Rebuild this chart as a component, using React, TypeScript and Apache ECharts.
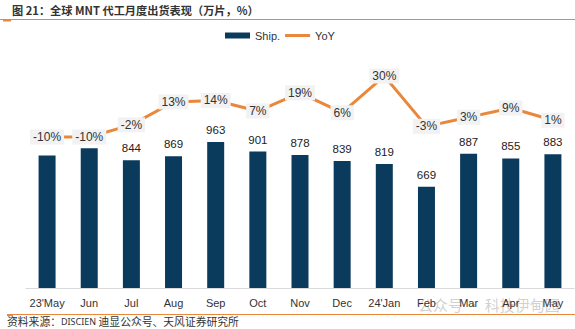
import React, { useEffect, useRef } from "react";
import * as echarts from "echarts";

const categories = ["23'May", "Jun", "Jul", "Aug", "Sep", "Oct", "Nov", "Dec", "24'Jan", "Feb", "Mar", "Apr", "May"];
const shipments = [875, 922, 844, 869, 963, 901, 878, 839, 819, 669, 887, 855, 883];
// bar value labels hidden behind the YoY labels in the reference
const shipLabelHidden = [true, true, false, false, false, false, false, false, false, false, false, false, false];
const yoy = [-10, -10, -2, 13, 14, 7, 19, 6, 30, -3, 3, 9, 1];

const titleText = "图 21：全球 MNT 代工月度出货表现（万片，%）";
const sourcePrefix = "资料来源：";
const sourceBrand = "DISCIEN";
const sourceRest = " 迪显公众号、天风证券研究所";
const watermarkText = "公众号 · 科技伊甸园";

export default function App() {
  const ref = useRef<HTMLDivElement>(null);
  useEffect(() => {
    if (!ref.current) return;
    const chart = echarts.init(ref.current, null, { renderer: "svg" });
    const orange = "#E9873B";
    const cjk = "Noto Sans CJK SC, sans-serif";
    chart.setOption({
      animation: false,
      textStyle: { fontFamily: "Liberation Sans, Arial, sans-serif" },
      grid: { left: 26, right: 1, top: 59.25, bottom: 41 },
      legend: {
        left: 220,
        top: 25,
        itemGap: 5,
        itemWidth: 25,
        itemHeight: 6,
        textStyle: { fontSize: 11, color: "#333", fontFamily: "Liberation Sans, Arial, sans-serif" },
        data: [
          { name: "Ship.", icon: "rect" },
          { name: "YoY", icon: "path://M0,0 L25,0 L25,3 L0,3 Z" },
        ],
      },
      xAxis: {
        type: "category",
        data: categories,
        axisLine: { lineStyle: { color: "#d9d9d9", width: 1 } },
        axisTick: { show: false },
        axisLabel: { color: "#333", fontSize: 11, margin: 9, interval: 0 },
      },
      yAxis: [
        { type: "value", min: 0, max: 1510, show: false, splitLine: { show: false } },
        { type: "value", min: -109, max: 41, show: false, splitLine: { show: false } },
      ],
      series: [
        {
          name: "Ship.",
          type: "bar",
          data: shipments.map((v, i) => ({ value: v, label: { show: !shipLabelHidden[i] } })),
          barWidth: 17,
          itemStyle: { color: "#0A3A5C" },
          label: { show: true, position: "top", distance: 6, color: "#222", fontSize: 11.5 },
        },
        {
          name: "YoY",
          type: "line",
          yAxisIndex: 1,
          data: yoy,
          symbol: "circle",
          symbolSize: 0.1,
          showSymbol: true,
          lineStyle: { color: orange, width: 3 },
          itemStyle: { color: orange },
          z: 3,
          labelLayout: { hideOverlap: false },
          label: {
            show: true,
            position: "inside",
            color: "#333",
            fontSize: 12,
            backgroundColor: "#f2f2f2",
            padding: [2, 3, 1, 3],
            formatter: (p: any) => p.value + "%",
          },
        },
      ],
      graphic: [
        {
          type: "text",
          left: 12,
          top: 4,
          style: {
            text: titleText,
            fontSize: 11.2,
            fontWeight: "bold",
            fill: "#333",
            fontFamily: cjk,
          },
        },
        { type: "line", shape: { x1: 0, y1: 19.5, x2: 575, y2: 19.5 }, style: { stroke: orange, lineWidth: 1 } },
        { type: "rect", shape: { x: 3, y: 19, width: 8, height: 2.5 }, style: { fill: orange } },
        {
          type: "text",
          left: 418,
          top: 297,
          style: {
            text: watermarkText,
            fontSize: 15,
            fill: "rgba(150,150,150,0.45)",
            fontFamily: cjk,
          },
        },
        { type: "line", shape: { x1: 7, y1: 314.5, x2: 575, y2: 314.5 }, style: { stroke: orange, lineWidth: 1 } },
        { type: "rect", shape: { x: 7, y: 314, width: 6, height: 2 }, style: { fill: orange } },
        {
          type: "text",
          left: 7,
          top: 316,
          style: {
            text: `{a|${sourcePrefix}}{b|${sourceBrand}}{a|${sourceRest}}`,
            rich: {
              a: { fontSize: 10.8, fill: "#333", fontFamily: cjk },
              b: { fontSize: 9, fill: "#333", fontFamily: "Noto Sans, sans-serif" },
            },
          },
        },
      ],
    });
    return () => chart.dispose();
  }, []);
  return <div ref={ref} style={{ position: "absolute", left: 0, top: 0, width: 575, height: 329 }} />;
}
